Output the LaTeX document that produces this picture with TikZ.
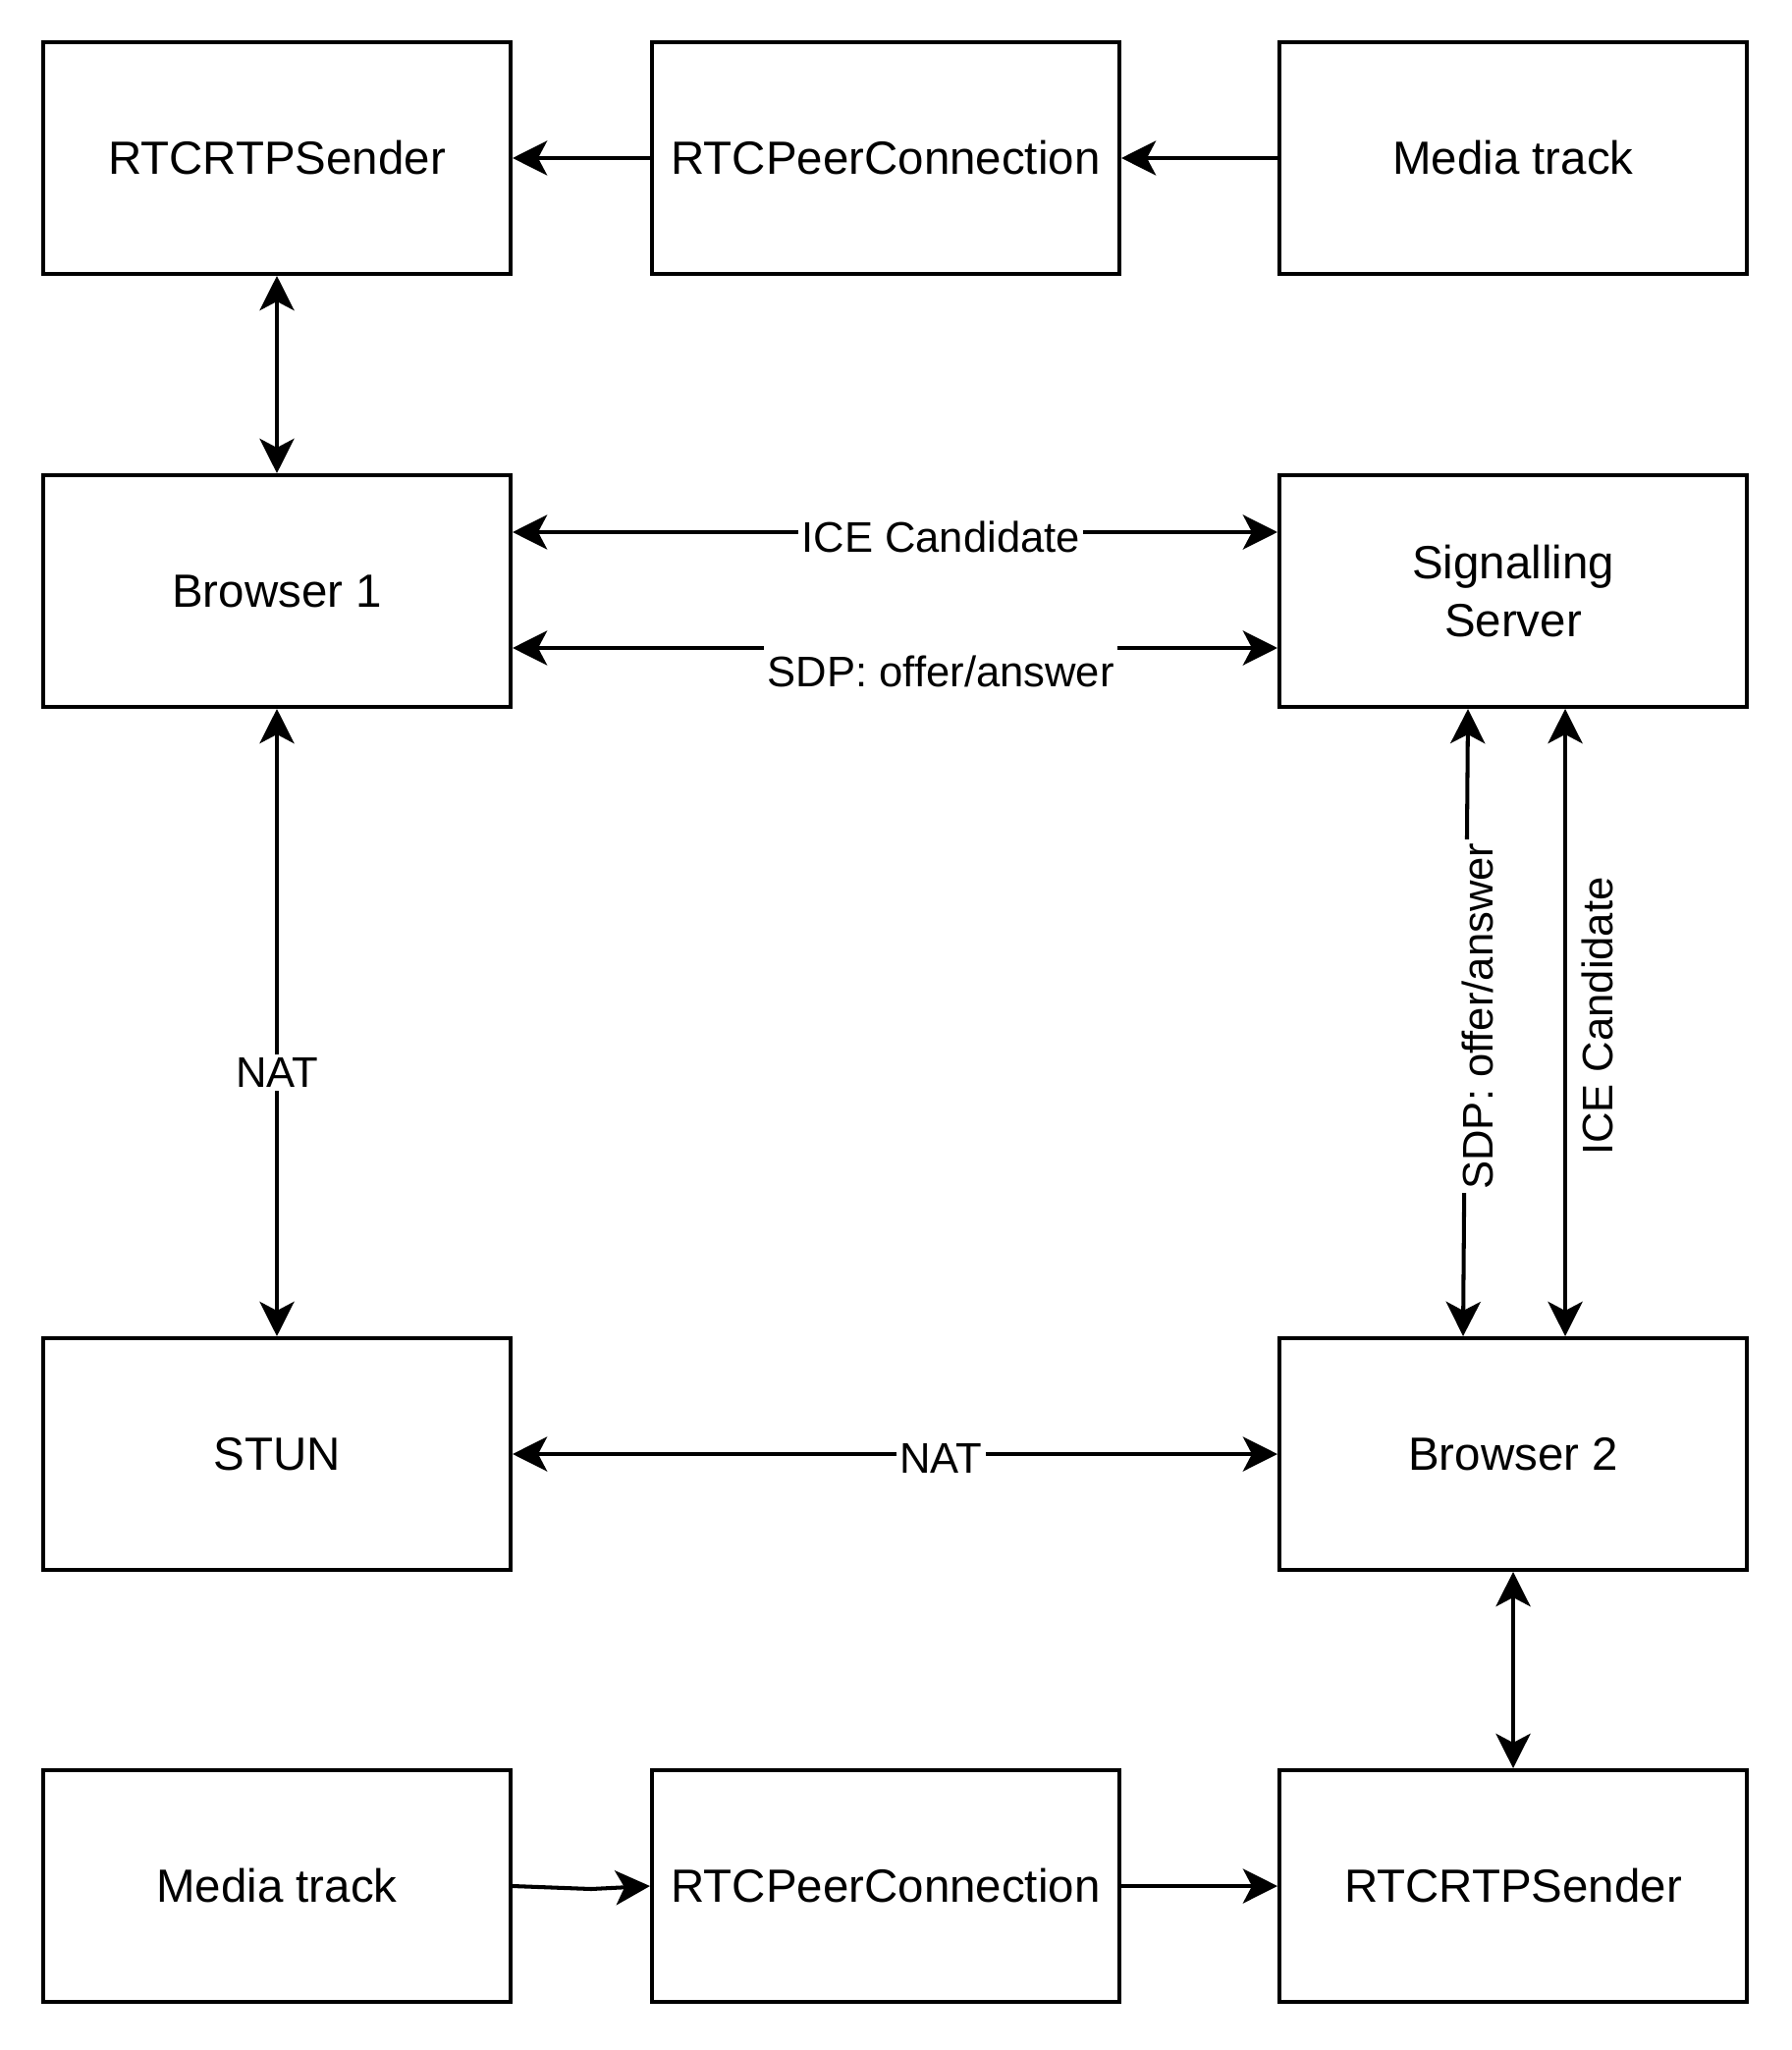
\documentclass[tikz,border=0pt]{standalone}
\usepackage{fontspec}
\setmainfont{Liberation Sans}
\usetikzlibrary{positioning, arrows.meta, calc}

\begin{document}
\begin{tikzpicture}[box/.style={draw, line width=1.15pt, minimum width=4.76cm, minimum height=2.36cm, align=center, font=\fontsize{13.5}{17}\selectfont},lbl/.style={fill=white, inner sep=1pt, font=\fontsize{12.4}{15}\selectfont},con/.style={line width=1.15pt, -{Stealth[length=10pt, width=10pt, inset=2.6pt]}},bicon/.style={line width=1.15pt, {Stealth[length=10pt, width=10pt, inset=2.6pt]}-{Stealth[length=10pt, width=10pt, inset=2.6pt]}}]
  \useasboundingbox (0,0) rectangle (18.24,-20.88);

  \node[box] (snd1) at (2.82,-1.61) {RTCRTPSender};
  \node[box] (pc1) at (9.02,-1.61) {RTCPeerConnection};
  \node[box] (mt1) at (15.41,-1.61) {Media track};

  \node[box] (br1) at (2.82,-6.02) {Browser 1};
  \node[box] (sig) at (15.41,-6.02) {Signalling\\Server};

  \node[box] (stun) at (2.82,-14.81) {STUN};
  \node[box] (br2) at (15.41,-14.81) {Browser 2};

  \node[box] (mt2) at (2.82,-19.21) {Media track};
  \node[box] (pc2) at (9.02,-19.21) {RTCPeerConnection};
  \node[box] (snd2) at (15.41,-19.21) {RTCRTPSender};

  \draw[con] (pc1) -- (snd1);
  \draw[con] (mt1) -- (pc1);
  \draw[bicon] (snd1) -- (br1);
  \draw[bicon] ([yshift=0.6cm]br1.east) -- node[lbl, pos=0.56, yshift=-0.05cm] {ICE Candidate} ([yshift=0.6cm]sig.west);
  \draw[bicon] ([yshift=-0.58cm]br1.east) -- node[lbl, inner ysep=3.5pt, pos=0.56, yshift=-0.24cm] {SDP: offer/answer} ([yshift=-0.58cm]sig.west);
  \draw[bicon] (br1) -- node[lbl, pos=0.58] {NAT} (stun);
  \draw[bicon] ([xshift=-0.46cm]sig.south) -- node[lbl, pos=0.49, xshift=0.12cm, rotate=90] {SDP: offer/answer} ([xshift=-0.51cm]br2.north);
  \draw[bicon] ([xshift=0.53cm]sig.south) -- node[lbl, fill=none, pos=0.49, xshift=0.33cm, rotate=90] {ICE Candidate} ([xshift=0.53cm]br2.north);
  \draw[bicon] (stun) -- node[lbl, pos=0.56, yshift=-0.04cm] {NAT} (br2);
  \draw[bicon] (br2) -- (snd2);
  \draw[con] (mt2.east) -- ++(0.8,-0.03) -- (pc2.west);
  \draw[con] (pc2) -- (snd2);
\end{tikzpicture}
\end{document}
